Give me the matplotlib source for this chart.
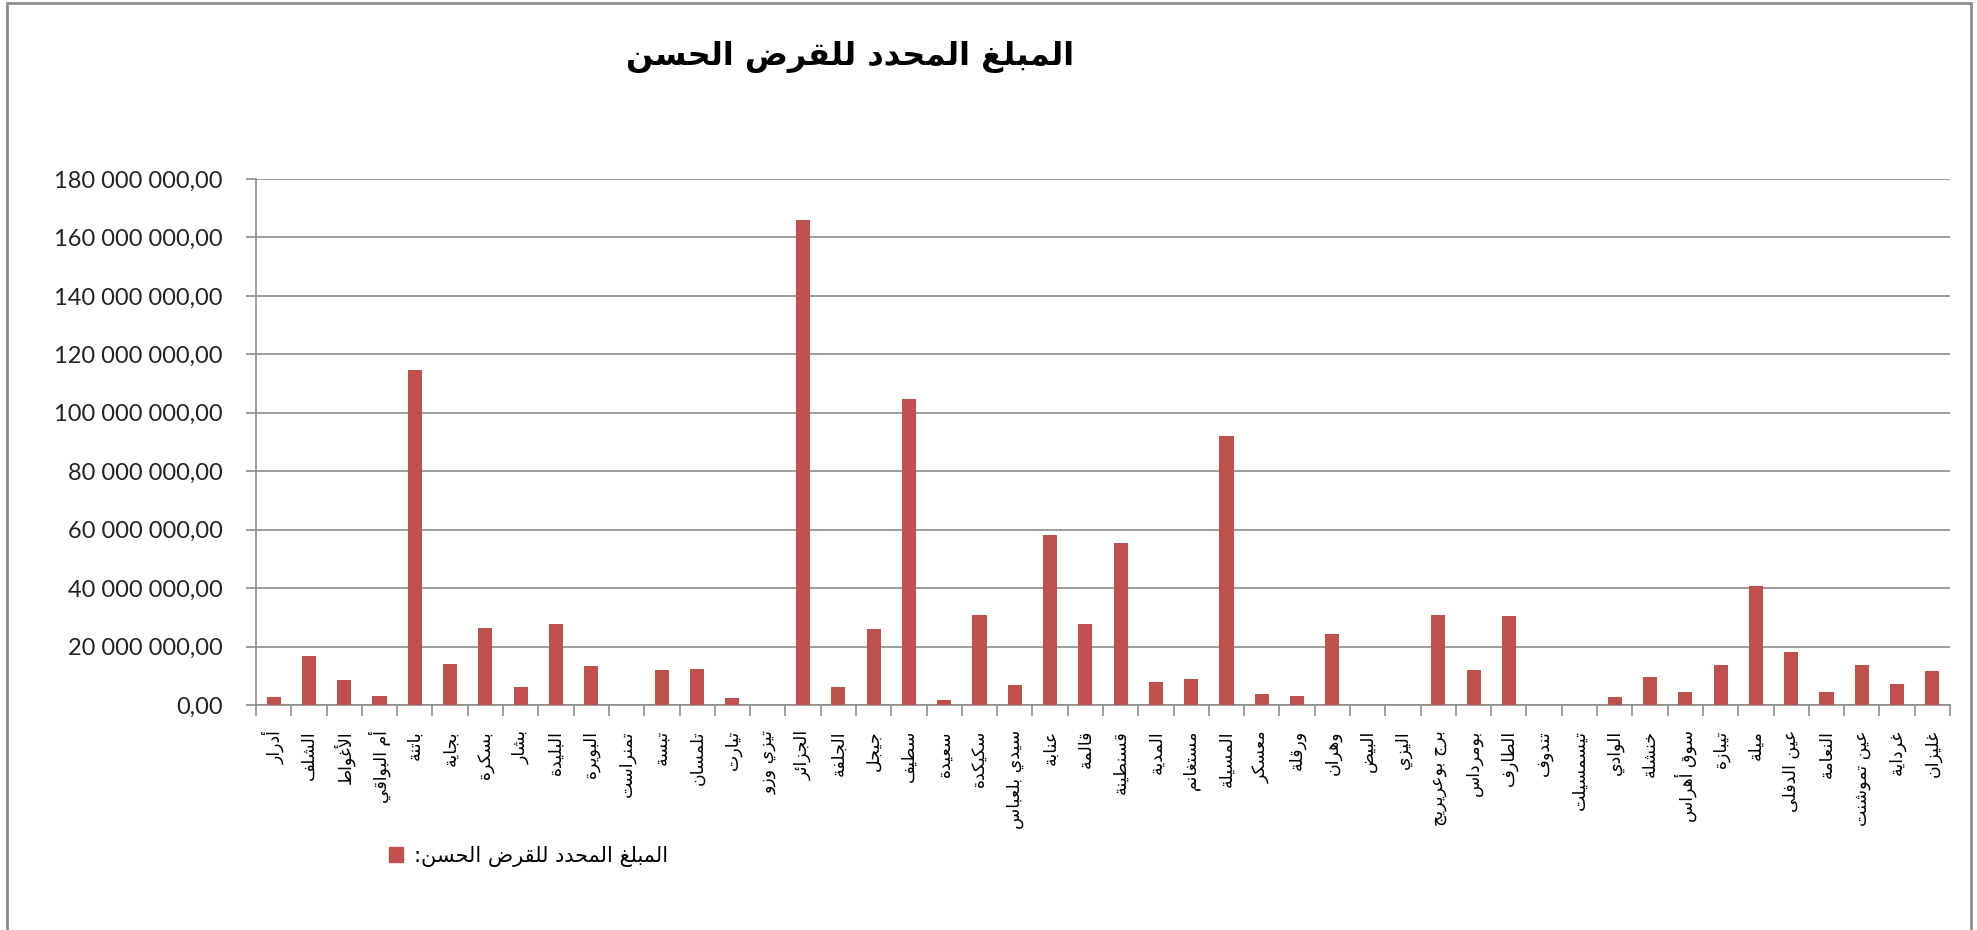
import matplotlib
matplotlib.use("Agg")
import matplotlib.pyplot as plt
import numpy as np
from matplotlib.ticker import FuncFormatter, FixedLocator
from matplotlib.patches import Rectangle

# ---------------- data ----------------
title = "المبلغ المحدد للقرض الحسن"
series_name = "المبلغ المحدد للقرض الحسن:"

wilayas = [
    "أدرار", "الشلف", "الأغواط", "أم البواقي", "باتنة", "بجاية", "بسكرة", "بشار",
    "البليدة", "البويرة", "تمنراست", "تبسة", "تلمسان", "تيارت", "تيزي وزو", "الجزائر",
    "الجلفة", "جيجل", "سطيف", "سعيدة", "سكيكدة", "سيدي بلعباس", "عنابة", "قالمة",
    "قسنطينة", "المدية", "مستغانم", "المسيلة", "معسكر", "ورقلة", "وهران", "البيض",
    "اليزي", "برج بوعريريج", "بومرداس", "الطارف", "تندوف", "تيسمسيلت", "الوادي", "خنشلة",
    "سوق أهراس", "تيبازة", "ميلة", "عين الدفلى", "النعامة", "عين تموشنت", "غرداية", "غليزان",
]

amounts = [
    2.6e6, 16.6e6, 8.6e6, 3.2e6, 114.6e6, 14.2e6, 26.4e6, 6.3e6,
    27.7e6, 13.5e6, 0.0, 12.1e6, 12.4e6, 2.4e6, 0.0, 166.0e6,
    6.3e6, 26.0e6, 104.7e6, 1.7e6, 30.8e6, 6.7e6, 58.2e6, 27.7e6,
    55.6e6, 8.0e6, 9.0e6, 92.2e6, 3.6e6, 3.0e6, 24.3e6, 0.0,
    0.0, 30.8e6, 12.1e6, 30.5e6, 0.0, 0.0, 2.6e6, 9.6e6,
    4.3e6, 13.8e6, 40.6e6, 18.0e6, 4.3e6, 13.8e6, 7.3e6, 11.7e6,
]

y_ticks = [0, 20e6, 40e6, 60e6, 80e6, 100e6, 120e6, 140e6, 160e6, 180e6]

# ---------------- minimal Arabic shaping (matplotlib has no bidi/shaping) ----------------
_FORMS = {
    # char: (isolated, final, initial, medial)  None => does not join forward
    "\u0621": ("\uFE80", None, None, None),
    "\u0622": ("\uFE81", "\uFE82", None, None),
    "\u0623": ("\uFE83", "\uFE84", None, None),
    "\u0624": ("\uFE85", "\uFE86", None, None),
    "\u0625": ("\uFE87", "\uFE88", None, None),
    "\u0626": ("\uFE89", "\uFE8A", "\uFE8B", "\uFE8C"),
    "\u0627": ("\uFE8D", "\uFE8E", None, None),
    "\u0628": ("\uFE8F", "\uFE90", "\uFE91", "\uFE92"),
    "\u0629": ("\uFE93", "\uFE94", None, None),
    "\u062A": ("\uFE95", "\uFE96", "\uFE97", "\uFE98"),
    "\u062B": ("\uFE99", "\uFE9A", "\uFE9B", "\uFE9C"),
    "\u062C": ("\uFE9D", "\uFE9E", "\uFE9F", "\uFEA0"),
    "\u062D": ("\uFEA1", "\uFEA2", "\uFEA3", "\uFEA4"),
    "\u062E": ("\uFEA5", "\uFEA6", "\uFEA7", "\uFEA8"),
    "\u062F": ("\uFEA9", "\uFEAA", None, None),
    "\u0630": ("\uFEAB", "\uFEAC", None, None),
    "\u0631": ("\uFEAD", "\uFEAE", None, None),
    "\u0632": ("\uFEAF", "\uFEB0", None, None),
    "\u0633": ("\uFEB1", "\uFEB2", "\uFEB3", "\uFEB4"),
    "\u0634": ("\uFEB5", "\uFEB6", "\uFEB7", "\uFEB8"),
    "\u0635": ("\uFEB9", "\uFEBA", "\uFEBB", "\uFEBC"),
    "\u0636": ("\uFEBD", "\uFEBE", "\uFEBF", "\uFEC0"),
    "\u0637": ("\uFEC1", "\uFEC2", "\uFEC3", "\uFEC4"),
    "\u0638": ("\uFEC5", "\uFEC6", "\uFEC7", "\uFEC8"),
    "\u0639": ("\uFEC9", "\uFECA", "\uFECB", "\uFECC"),
    "\u063A": ("\uFECD", "\uFECE", "\uFECF", "\uFED0"),
    "\u0641": ("\uFED1", "\uFED2", "\uFED3", "\uFED4"),
    "\u0642": ("\uFED5", "\uFED6", "\uFED7", "\uFED8"),
    "\u0643": ("\uFED9", "\uFEDA", "\uFEDB", "\uFEDC"),
    "\u0644": ("\uFEDD", "\uFEDE", "\uFEDF", "\uFEE0"),
    "\u0645": ("\uFEE1", "\uFEE2", "\uFEE3", "\uFEE4"),
    "\u0646": ("\uFEE5", "\uFEE6", "\uFEE7", "\uFEE8"),
    "\u0647": ("\uFEE9", "\uFEEA", "\uFEEB", "\uFEEC"),
    "\u0648": ("\uFEED", "\uFEEE", None, None),
    "\u0649": ("\uFEEF", "\uFEF0", None, None),
    "\u064A": ("\uFEF1", "\uFEF2", "\uFEF3", "\uFEF4"),
}
_LAM_ALEF = {"\u0622": ("\uFEF5", "\uFEF6"), "\u0623": ("\uFEF7", "\uFEF8"),
             "\u0625": ("\uFEF9", "\uFEFA"), "\u0627": ("\uFEFB", "\uFEFC")}


def _joins_forward(ch):
    f = _FORMS.get(ch)
    return f is not None and f[2] is not None


def shape_ar(text):
    out = []
    chars = list(text)
    i = 0
    n = len(chars)
    while i < n:
        c = chars[i]
        if c not in _FORMS:
            out.append(c)
            i += 1
            continue
        prev = chars[i - 1] if i > 0 else None
        prev_joins = prev is not None and _joins_forward(prev)
        # lam-alef ligature
        if c == "\u0644" and i + 1 < n and chars[i + 1] in _LAM_ALEF:
            iso, fin = _LAM_ALEF[chars[i + 1]]
            out.append(fin if prev_joins else iso)
            i += 2
            continue
        nxt = chars[i + 1] if i + 1 < n else None
        next_is_letter = nxt is not None and nxt in _FORMS
        iso, fin, ini, med = _FORMS[c]
        can_fwd = ini is not None and next_is_letter
        if prev_joins and can_fwd:
            out.append(med)
        elif prev_joins:
            out.append(fin)
        elif can_fwd:
            out.append(ini)
        else:
            out.append(iso)
        i += 1
    return "".join(out)[::-1]


# ---------------- plot ----------------
plt.rcParams["font.family"] = ["DejaVu Sans"]
W, H = 1977, 930
fig = plt.figure(figsize=(W / 100, H / 100), dpi=100)
fig.patch.set_facecolor("white")

# outer chart border
fig.patches.append(Rectangle((7 / W, -0.01), (1971 - 7) / W, 1.0 + 0.01 - 3 / H,
                             transform=fig.transFigure, fill=False,
                             edgecolor="#8c8c8c", linewidth=2.0))

left, right, top, bottom = 256, 1950, 179, 705
ax = fig.add_axes([left / W, 1 - bottom / H, (right - left) / W, (bottom - top) / H])

x = np.arange(len(wilayas))
bar_color = "#C0504D"
ax.bar(x, amounts, width=0.4, color=bar_color, zorder=3)

ax.set_xlim(-0.5, len(wilayas) - 0.5)
ax.set_ylim(0, 180e6)

ax.yaxis.set_major_locator(FixedLocator(y_ticks))
ax.yaxis.set_major_formatter(FuncFormatter(
    lambda v, p: f"{v:,.2f}".replace(",", " ").replace(".", ",")))
ax.grid(axis="y", color="#8c8c8c", linewidth=1.2, zorder=0)
ax.set_axisbelow(True)

for s in ["top", "right"]:
    ax.spines[s].set_visible(False)
for s in ["left", "bottom"]:
    ax.spines[s].set_color("#8c8c8c")
    ax.spines[s].set_linewidth(1.2)

ax.tick_params(axis="y", direction="out", length=7, width=1.2, color="#8c8c8c",
               labelsize=17, labelcolor="#222222", pad=17)
for lab in ax.get_yticklabels():
    lab.set_fontfamily("Lato")

# category boundaries as major ticks, labels at centres via minor ticks
ax.set_xticks(np.arange(len(wilayas) + 1) - 0.5)
ax.set_xticklabels([])
ax.tick_params(axis="x", which="major", direction="out", length=8, width=1.2, color="#8c8c8c")
ax.set_xticks(x, minor=True)
ax.set_xticklabels([shape_ar(w) for w in wilayas], minor=True, rotation=90,
                   fontsize=12.5, va="top", ha="center")
ax.tick_params(axis="x", which="minor", length=0, pad=18)

fig.text(850 / W, 1 - 57 / H, shape_ar(title), fontsize=23, fontweight="bold",
         ha="center", va="center", color="black")

# legend
handle = Rectangle((0, 0), 1, 1, color=bar_color)
fig.legend([handle], [shape_ar(series_name)], loc="center left",
           bbox_to_anchor=(370 / W, 1 - 856 / H), frameon=False, fontsize=15,
           handlelength=0.7, handleheight=0.7, handletextpad=0.5)

fig.savefig("out.png", dpi=100)
